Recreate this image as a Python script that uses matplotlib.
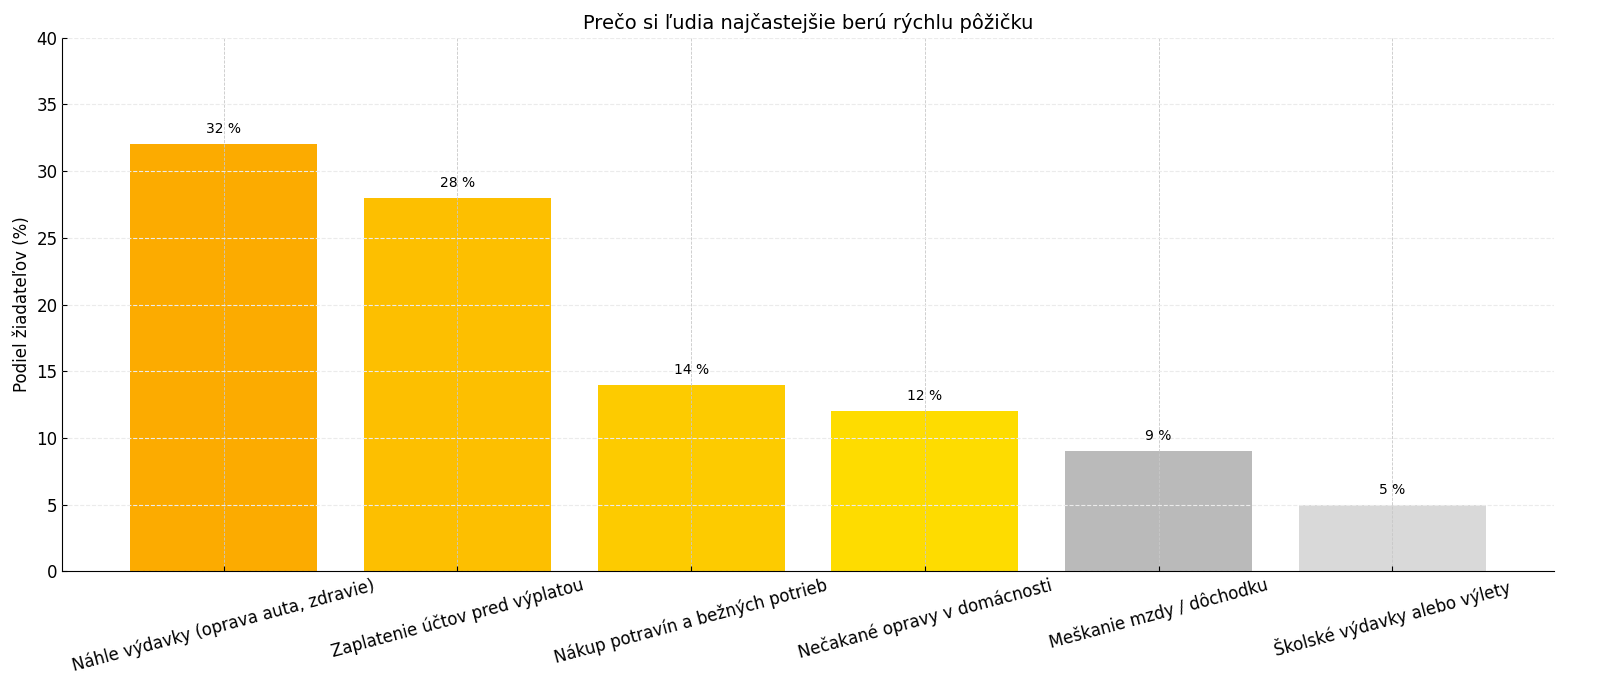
import matplotlib
matplotlib.use("Agg")
import matplotlib.pyplot as plt

# --- data ---
REASONS = [
    "Náhle výdavky (oprava auta, zdravie)",
    "Zaplatenie účtov pred výplatou",
    "Nákup potravín a bežných potrieb",
    "Nečakané opravy v domácnosti",
    "Meškanie mzdy / dôchodku",
    "Školské výdavky alebo výlety",
]
SHARE = [32, 28, 14, 12, 9, 5]
COLORS = ["#FCAB00", "#FDBF00", "#FDCB00", "#FEDC00", "#BABABA", "#D9D9D9"]

TITLE = "Prečo si ľudia najčastejšie berú rýchlu pôžičku"
YLABEL = "Podiel žiadateľov (%)"

plt.rcParams.update({
    "font.family": "DejaVu Sans",
    "xtick.direction": "in",
    "ytick.direction": "in",
})

fig, ax = plt.subplots(figsize=(16, 7), dpi=100)
fig.subplots_adjust(left=0.039, right=0.971, top=0.946, bottom=0.184)

x = range(len(REASONS))
bars = ax.bar(x, SHARE, width=0.8, color=COLORS, zorder=1)

for b, v in zip(bars, SHARE):
    ax.text(b.get_x() + b.get_width() / 2, v + 0.6, f"{v} %",
            ha="center", va="bottom", fontsize=10, zorder=3)

ax.set_ylim(0, 40)
ax.set_xticks(list(x))
ax.set_xticklabels(REASONS, rotation=15, ha="center", fontsize=12)
ax.tick_params(axis="y", labelsize=12)
ax.set_ylabel(YLABEL, fontsize=12)
ax.set_title(TITLE, fontsize=14)

ax.set_axisbelow(False)
ax.grid(axis="y", linestyle="--", color="#EBEBEB", linewidth=0.8, zorder=2)
ax.grid(axis="x", linestyle="--", color="#C8C8C8", linewidth=0.6, zorder=2)

for s in ("top", "right"):
    ax.spines[s].set_visible(False)

fig.savefig("out.png", dpi=100)
